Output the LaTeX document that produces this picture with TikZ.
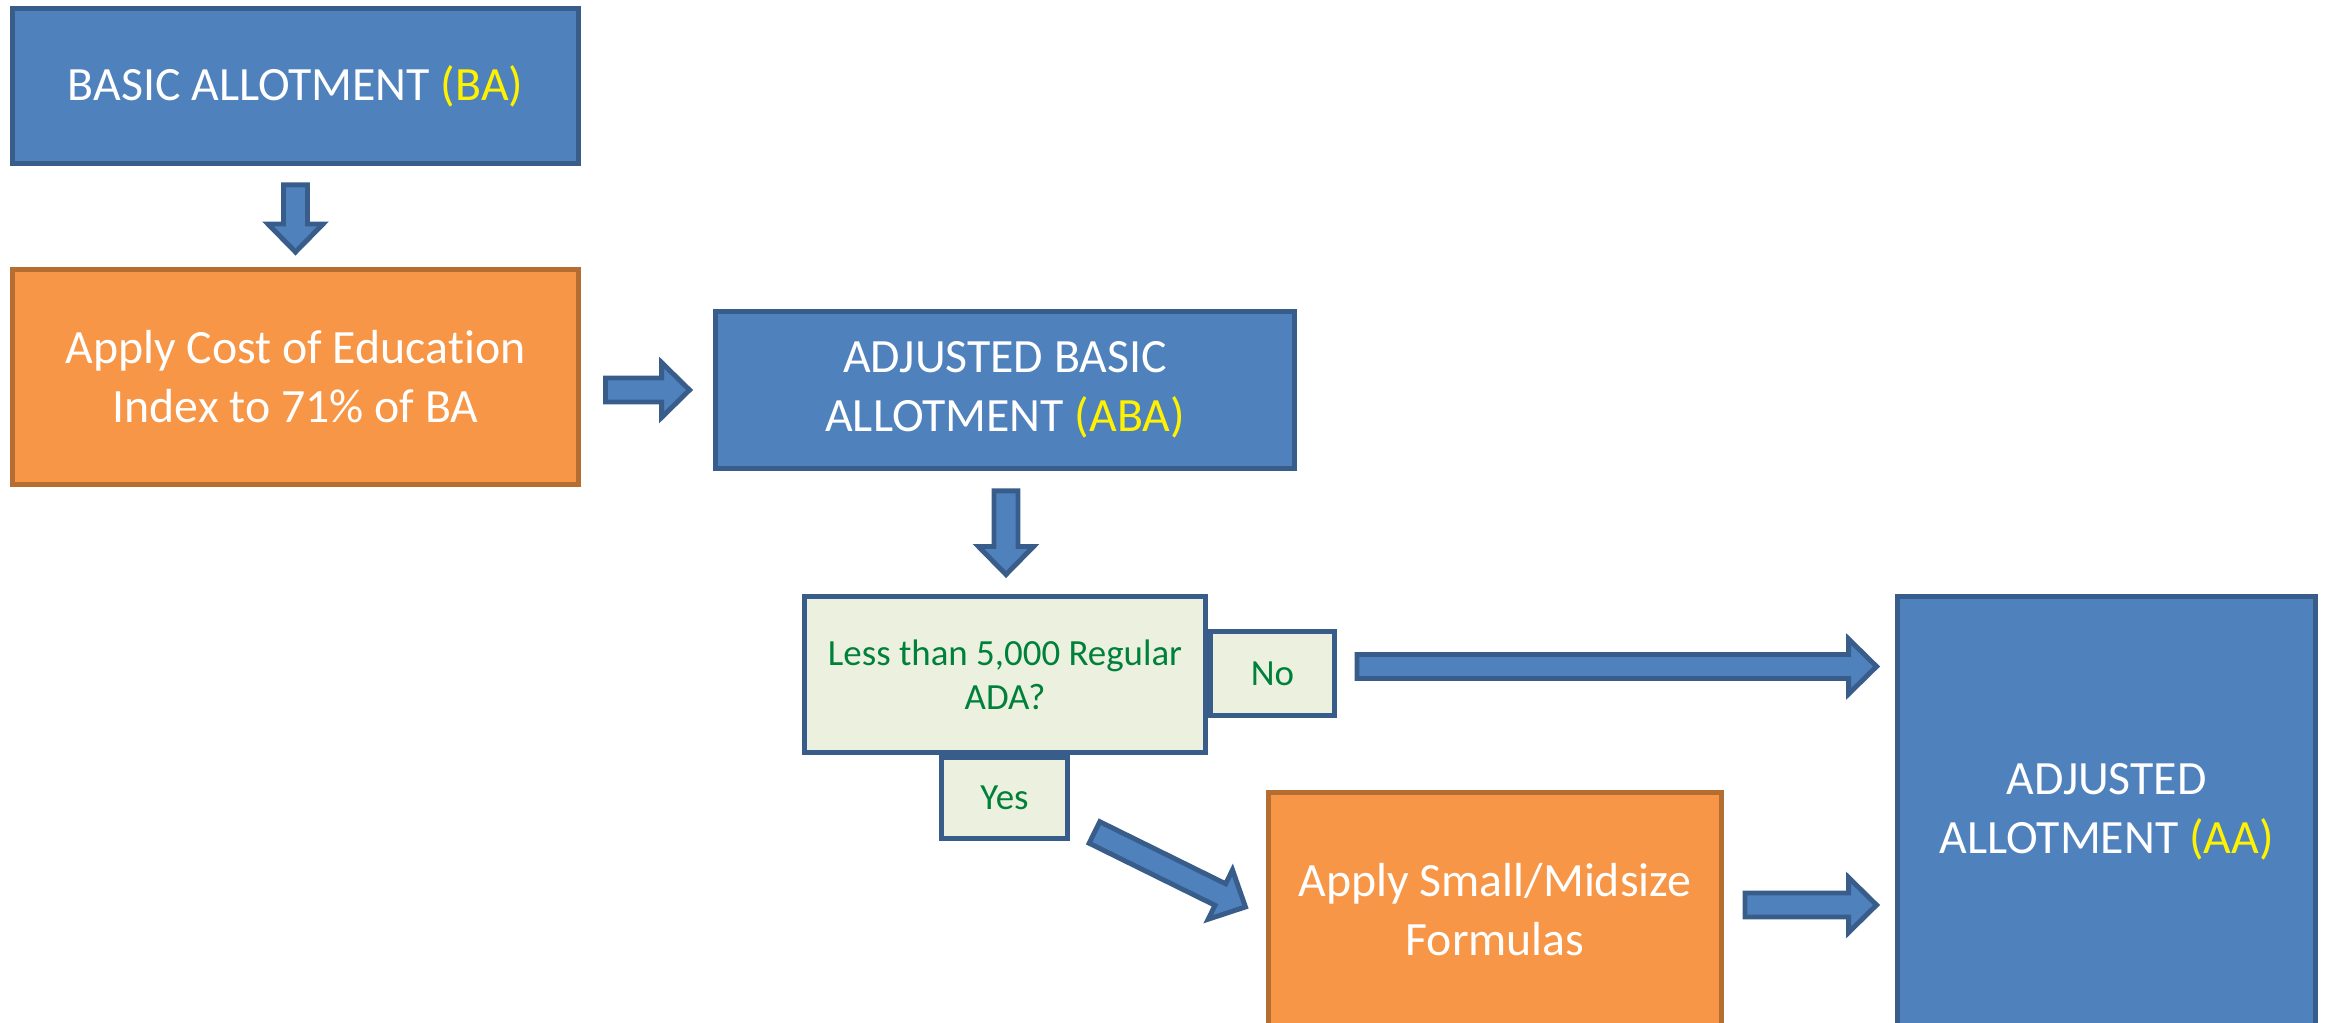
\documentclass[tikz,border=0pt]{standalone}
\usepackage{fontspec}
\setmainfont{Carlito}[RawFeature={-liga;-clig;-calt;-dlig}]
\usetikzlibrary{shapes,calc,positioning}

\definecolor{boxblue}{HTML}{4F81BD}
\definecolor{lineblue}{HTML}{385D8A}
\definecolor{boxorange}{HTML}{F79646}
\definecolor{lineorange}{HTML}{B66D31}
\definecolor{boxgreen}{HTML}{EBF1DE}
\definecolor{textgreen}{RGB}{0,128,58}

\tikzset{
  bluebox/.style={draw=lineblue, fill=boxblue, line width=1.4pt, text=white,
    align=center, inner sep=0pt, font=\fontsize{13.6}{16.8}\selectfont},
  orangebox/.style={bluebox, draw=lineorange, fill=boxorange},
  askbox/.style={bluebox, fill=boxgreen, text=textgreen,
    font=\fontsize{10.5}{12.6}\selectfont},
  blockarrow/.style={draw=lineblue, fill=boxblue, line width=1.4pt, line join=miter}
}

% fat arrow from #1 to #2
\newcommand{\blockarrow}[2]{%
  \path[blockarrow] let \p1=(#1), \p2=(#2),
    \n1={atan2(\y2-\y1,\x2-\x1)}, \n2={veclen(\x2-\x1,\y2-\y1)} in
    [shift={(\p1)}, rotate=\n1]
    (0pt,-0.12cm) -- ({\n2-0.28cm},-0.12cm) -- ({\n2-0.28cm},-0.275cm)
    -- ({\n2+0pt},0cm) -- ({\n2-0.28cm},0.275cm) -- ({\n2-0.28cm},0.12cm)
    -- (0pt,0.12cm) -- cycle;}

\begin{document}
\begin{tikzpicture}
\path[use as bounding box, clip] (0,0) rectangle (23.3,-10.23);

\node[bluebox, minimum width=5.66cm, minimum height=1.55cm] (ba) at (2.955,-0.86)
  {BASIC ALLOTMENT \textcolor{yellow}{(BA)}};
\node[orangebox, minimum width=5.66cm, minimum height=2.15cm] (coe) at (2.955,-3.77)
  {Apply Cost of Education\\Index to 71\% of BA};
\node[bluebox, minimum width=5.79cm, minimum height=1.57cm] (aba) at (10.05,-3.90)
  {ADJUSTED BASIC\\ALLOTMENT \textcolor{yellow}{(ABA)}};

\node[askbox, minimum width=4.01cm, minimum height=1.56cm] (ask) at (10.05,-6.745)
  {Less than 5,000 Regular\\ADA?};
\node[askbox, minimum width=1.24cm, minimum height=0.84cm] (no) at (12.725,-6.735) {No};
\node[askbox, minimum width=1.26cm, minimum height=0.81cm] (yes) at (10.045,-7.98) {Yes};

\node[orangebox, minimum width=4.53cm, minimum height=2.35cm] (small) at (14.95,-9.10)
  {Apply Small/Midsize\\Formulas};
\node[bluebox, minimum width=4.18cm, minimum height=4.31cm] (aa) at (21.065,-8.12)
  {ADJUSTED\\ALLOTMENT \textcolor{yellow}{(AA)}};

\blockarrow{$(ba.south)+(0,-0.19)$}{$(coe.north)+(0,0.15)$}
\blockarrow{$(coe.east|-aba.west)+(0.245,0)$}{$(aba.west)+(-0.235,0)$}
\blockarrow{$(aba.south)+(0.01,-0.20)$}{$(ask.north)+(0.01,0.195)$}
\blockarrow{$(no.east)+(0.2,0.07)$}{$(aa.west|-no.east)+(-0.185,0.07)$}
\blockarrow{$(yes.south east)+(0.245,0.085)$}{$(small.west)+(-0.205,0.03)$}
\blockarrow{$(small.east)+(0.21,0.05)$}{$(aa.west|-small.east)+(-0.185,0.05)$}

\end{tikzpicture}
\end{document}
